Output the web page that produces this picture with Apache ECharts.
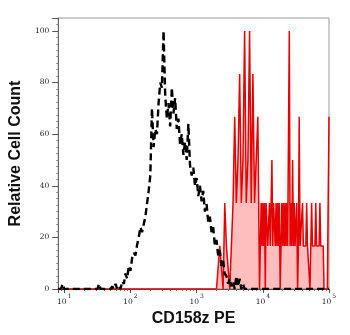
<!DOCTYPE html>
<html><head><meta charset="utf-8">
<script src="https://cdn.jsdelivr.net/npm/echarts@6/dist/echarts.min.js"></script>
<style>html,body{margin:0;padding:0;background:#fff}#c{width:350px;height:335px}</style>
</head><body><div id="c"></div>
<script>
// x positions are given in decades (log10 of the channel value)
const xTickExponents = [1, 2, 3, 4, 5];
const yTicks = [0, 20, 40, 60, 80, 100];

const blackDecades = [0.91,0.95,0.975,1.0,1.5,1.525,1.55,1.7,1.725,1.75,1.775,1.8,1.825,1.85,1.875,1.9,1.925,1.95,1.975,
  2.0,2.025,2.05,2.075,2.1,2.125,2.15,2.175,2.2,2.225,2.25,2.275,2.3,2.325,2.35,2.375,2.4,2.425,2.45,2.475,
  2.5,2.525,2.55,2.575,2.6,2.625,2.65,2.675,2.7,2.725,2.75,2.775,2.8,2.825,2.85,2.875,2.9,2.925,2.95,2.975,
  3.0,3.025,3.05,3.075,3.1,3.125,3.15,3.175,3.2,3.225,3.25,3.275,3.3,3.325,3.35,3.375,3.4,3.425,3.45,3.475,
  3.5,3.525,3.55,3.575,3.6,3.625,3.65,3.675,3.7,3.725,5.0];
const blackValues = [0,0,2,0,0,2,0,0,1,0,2,0,1,0,3,2,6,4,9,
  7,12,14,13,17,20,24,22,25,28,33,38,44,70,55,62,60,72,80,78,
  100,75,66,72,63,78,68,74,62,66,56,60,52,57,50,64,48,44,47,40,
  43,36,40,34,38,30,33,26,28,22,24,17,19,13,15,9,11,6,5,2,
  4,1,3,0,5,1,4,0,2,0,0];

const redDecades = [0.91,3.3,3.325,3.35,3.375,3.4,3.425,3.45,3.475,
  3.5,3.525,3.55,3.575,3.6,3.625,3.65,3.675,3.7,3.725,3.75,3.775,3.8,3.825,3.85,3.875,3.9,3.925,
  3.95,3.9625,3.975,3.9875,4.0,4.0125,4.025,4.0375,4.05,4.0625,4.075,4.0875,4.1,4.1125,4.125,4.1375,
  4.15,4.1625,4.175,4.1875,4.2,4.2125,4.225,4.2375,4.25,4.2625,4.275,4.2875,4.3,4.3125,4.325,4.3375,
  4.35,4.3625,4.375,4.3875,4.4,4.4125,4.425,4.4375,4.45,4.4625,4.475,4.4875,4.5,4.5125,4.525,4.5375,
  4.55,4.5625,4.575,4.5875,4.6,4.6125,4.625,4.6375,4.65,4.6625,4.675,4.6875,4.7,4.7125,4.725,4.7375,
  4.75,4.7625,4.775,4.7875,4.8,4.8125,4.825,4.8375,4.85,4.8625,4.875,4.8875,4.9,4.9125,4.925,4.9375,
  4.95,4.975,5.0];
const redValues = [0,0,0,16.7,16.7,0,33.3,16.7,16.7,
  0,16.7,33.3,66.7,33.3,50,83.3,33.3,50,100,33.3,50,100,33.3,83.3,33.3,33.3,66.7,
  0,16.7,33.3,16.7,33.3,16.7,33.3,0,33.3,33.3,16.7,16.7,33.3,16.7,16.7,50,
  16.7,33.3,33.3,16.7,33.3,16.7,33.3,16.7,33.3,0,16.7,33.3,16.7,33.3,16.7,33.3,
  16.7,33.3,16.7,16.7,100,16.7,33.3,16.7,50,16.7,33.3,16.7,16.7,33.3,0,16.7,
  66.7,16.7,16.7,16.7,33.3,16.7,16.7,16.7,16.7,33.3,16.7,16.7,16.7,0,16.7,33.3,
  16.7,16.7,16.7,16.7,33.3,16.7,16.7,16.7,16.7,33.3,16.7,16.7,16.7,16.7,0,0,
  0,0,66.7];

const toPairs = (dec, vals) => dec.map((d, i) => [Math.pow(10, d), vals[i]]);

const chart = echarts.init(document.getElementById('c'), null, {renderer: 'canvas'});
const tickFont = 'DejaVu Serif';
chart.setOption({
  animation: false,
  backgroundColor: '#fff',
  grid: {left: 58, right: 21, top: 18, bottom: 46, show: true, borderColor: '#9a9a9a', borderWidth: 1},
  xAxis: {
    type: 'log', logBase: 10, min: 8.1, max: 100000,
    name: 'CD158z PE', nameLocation: 'middle', nameGap: 22,
    nameTextStyle: {fontFamily: 'Liberation Sans', fontWeight: 'bold', fontSize: 16, color: '#111'},
    axisLine: {lineStyle: {color: '#555', width: 1}},
    axisTick: {show: true, length: 4, lineStyle: {color: '#555'}},
    minorTick: {show: true, splitNumber: 9, length: 2, lineStyle: {color: '#777'}},
    splitLine: {show: false}, minorSplitLine: {show: false},
    axisLabel: {
      showMinLabel: false, margin: 4,
      formatter: v => {
        const e = Math.round(Math.log10(v));
        return xTickExponents.indexOf(e) >= 0 ? '{b|10}{s|' + e + '}' : '';
      },
      rich: {
        b: {fontFamily: tickFont, fontSize: 7.5, color: '#222', verticalAlign: 'bottom', lineHeight: 13},
        s: {fontFamily: tickFont, fontSize: 6, color: '#222', verticalAlign: 'top', padding: [0, 0, 0, 1]}
      }
    }
  },
  yAxis: {
    type: 'value', min: 0, max: 105, interval: 20,
    name: 'Relative Cell Count', nameLocation: 'middle', nameGap: 34, nameRotate: 90,
    nameTextStyle: {fontFamily: 'Liberation Sans', fontWeight: 'bold', fontSize: 16, color: '#111'},
    axisLine: {show: true, lineStyle: {color: '#666', width: 1}},
    axisTick: {show: true, length: 6, lineStyle: {color: '#555'}},
    minorTick: {show: true, splitNumber: 8, length: 2, lineStyle: {color: '#888'}},
    splitLine: {show: false},
    axisLabel: {
      showMaxLabel: false, margin: 9, fontFamily: tickFont, fontSize: 7.5, color: '#222',
      formatter: v => (yTicks.indexOf(v) >= 0 ? String(v) : '')
    }
  },
  series: [
    {
      type: 'line', name: 'CD158z PE', data: toPairs(redDecades, redValues),
      showSymbol: false, symbol: 'none', z: 2,
      lineStyle: {color: '#e60000', width: 1.5},
      areaStyle: {color: 'rgba(255,70,70,0.5)', origin: 'start'}
    },
    {
      type: 'line', name: 'control', data: toPairs(blackDecades, blackValues),
      showSymbol: false, symbol: 'none', z: 3,
      lineStyle: {color: '#000', width: 2.4, type: [7, 4]}
    }
  ]
});
</script>
</body></html>
